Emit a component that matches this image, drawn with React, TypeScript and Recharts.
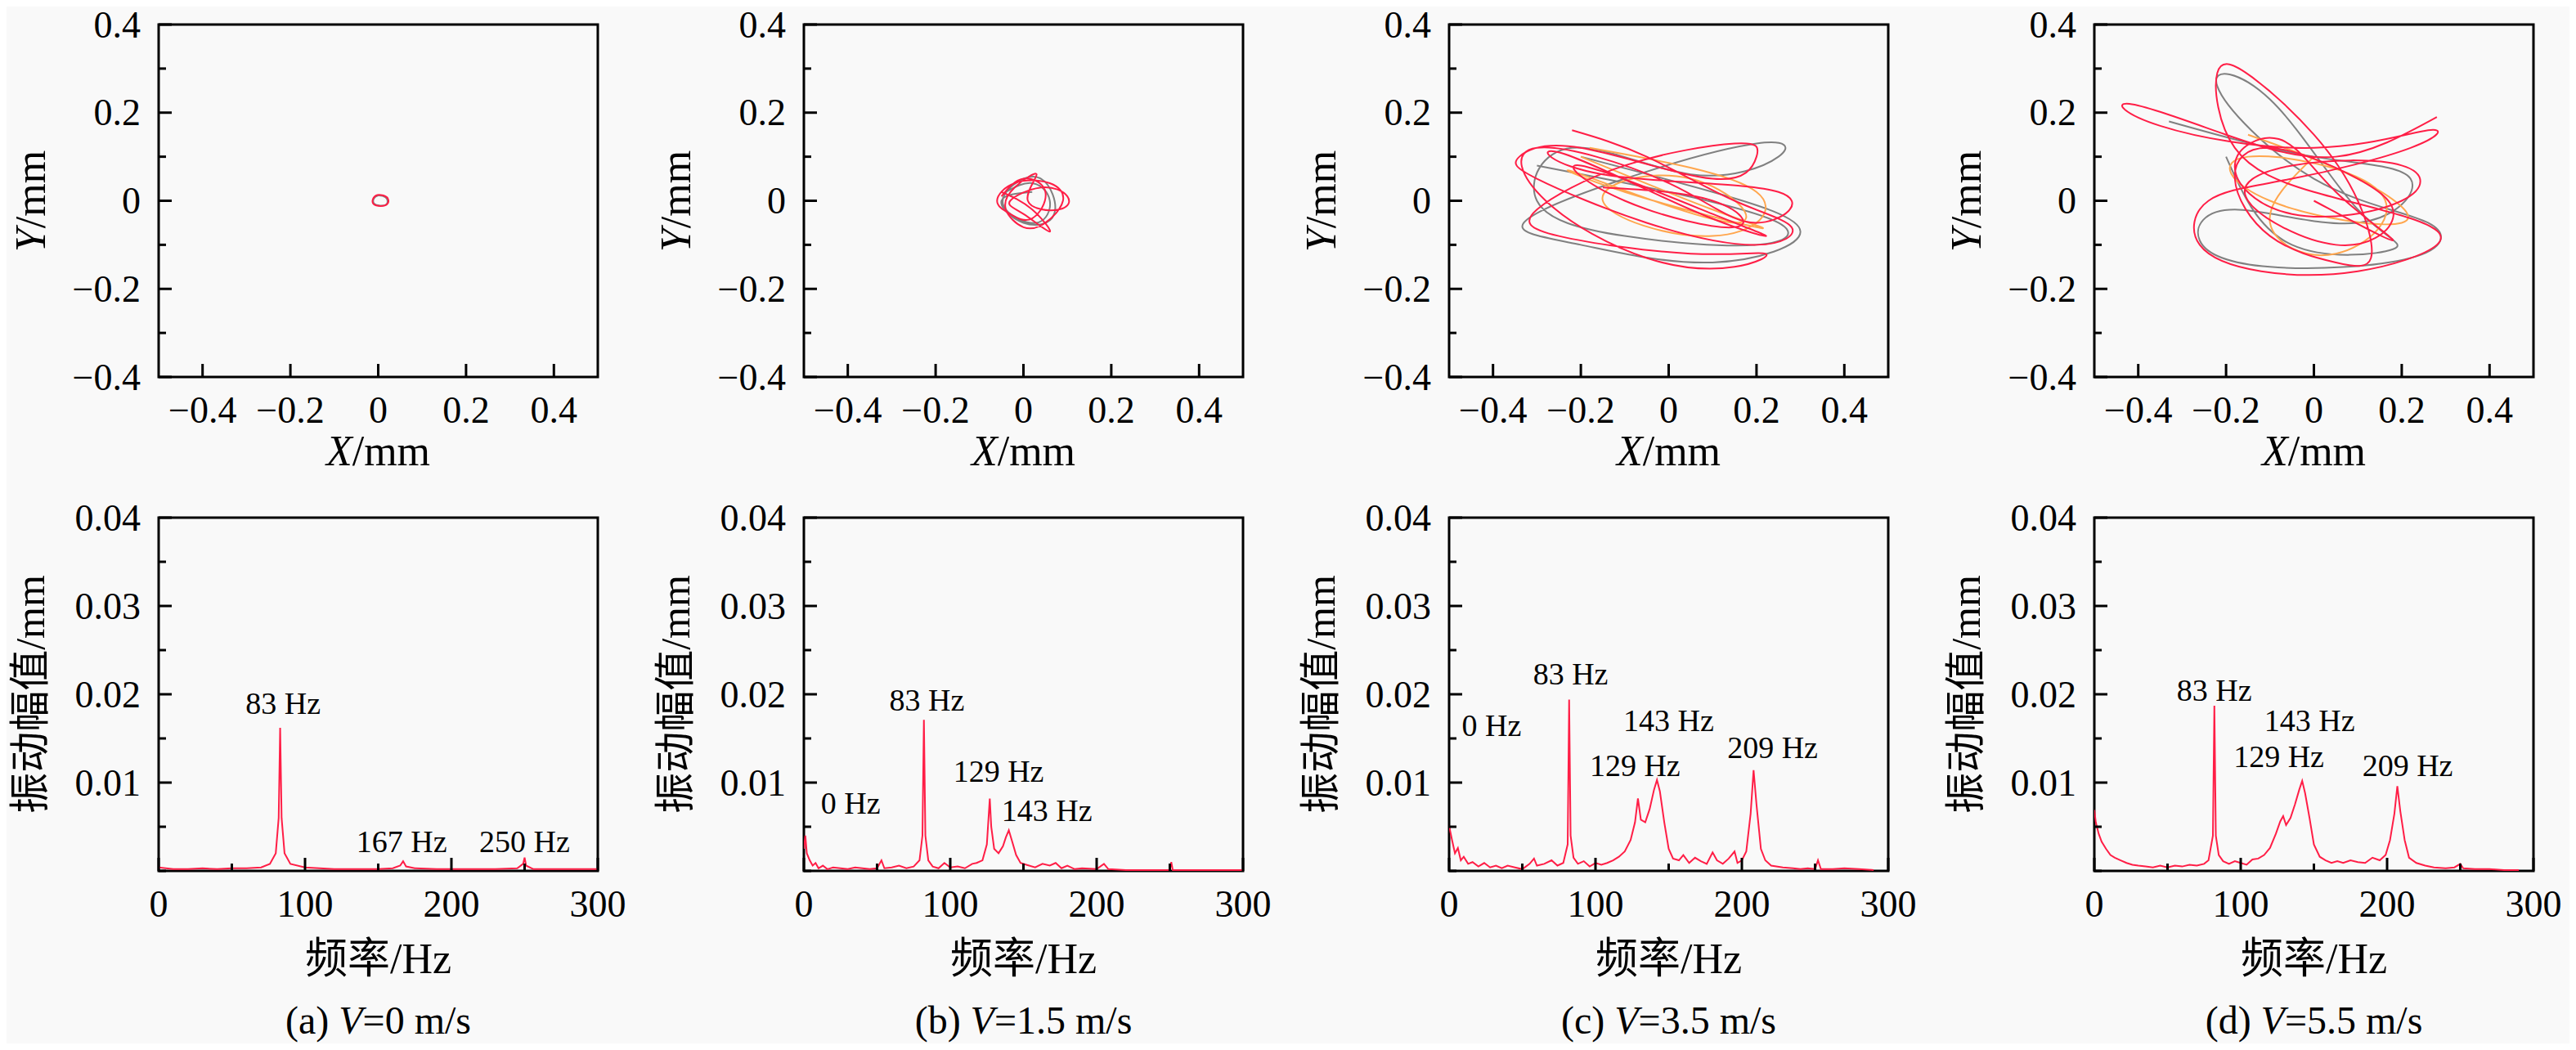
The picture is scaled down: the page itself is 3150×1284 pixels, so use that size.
import React from 'react';
import { LineChart, Line, XAxis, YAxis, ReferenceArea, ReferenceDot } from 'recharts';

const serif = '"Liberation Serif", "Times New Roman", serif';
const cjk = '"Noto Sans CJK SC", sans-serif';

const captions = ['(a) ', '(b) ', '(c) ', '(d) '];
const speeds = ['=0 m/s', '=1.5 m/s', '=3.5 m/s', '=5.5 m/s'];

const orbitTicks = [-0.4, -0.3, -0.2, -0.1, 0, 0.1, 0.2, 0.3, 0.4];
const orbitXTicks = [-0.4, -0.2, 0, 0.2, 0.4];
const specYTicks = [0, 0.005, 0.01, 0.015, 0.02, 0.025, 0.03, 0.035, 0.04];
const specXTicks = [0, 50, 100, 150, 200, 250, 300];

type P = [number, number];

// orbit traces (x, y) in mm
const orbitARed: P[] = [[0.012, 0.012], [0.022, 0.005], [0.02, -0.008], [0.005, -0.012], [-0.01, -0.008], [-0.012, 0.004], [-0.002, 0.013], [0.012, 0.012]];
const orbitAGray: P[] = [[0.01, 0.011], [0.02, 0.004], [0.018, -0.009], [0.004, -0.011], [-0.009, -0.007], [-0.01, 0.005], [0.0, 0.012], [0.01, 0.011]];
const orbitBRed: P[] = [[-0.05, 0.01], [0.0, 0.05], [0.05, 0.02], [0.02, -0.04], [-0.03, -0.03], [-0.06, 0.0], [-0.02, 0.04], [0.06, 0.04], [0.09, 0.0], [0.05, -0.05], [0.0, -0.06], [-0.04, -0.02], [-0.02, 0.03], [0.03, 0.06], [0.01, 0.0], [0.08, -0.02], [0.1, 0.01], [0.04, 0.03], [-0.03, 0.0], [0.0, -0.03], [0.06, -0.07], [0.02, -0.02], [-0.05, 0.02]];
const orbitBGray: P[] = [[-0.04, 0.02], [0.02, 0.04], [0.06, 0.0], [0.03, -0.05], [-0.04, -0.02], [-0.03, 0.03], [0.04, 0.05], [0.07, -0.03], [0.0, -0.05], [-0.05, 0.0], [0.02, 0.02]];
const orbitCRed: P[] = [[-0.22, 0.16], [-0.05, 0.1], [0.15, 0.0], [0.28, -0.06], [0.2, -0.1], [-0.05, -0.05], [-0.3, 0.05], [-0.34, 0.1], [-0.2, 0.12], [0.1, 0.05], [0.2, 0.1], [0.15, 0.13], [-0.1, 0.08], [-0.3, -0.02], [-0.25, -0.08], [0.05, -0.12], [0.22, -0.12], [0.15, -0.15], [-0.05, -0.13], [-0.28, 0.0], [-0.3, 0.12], [0.0, 0.04], [0.2, -0.05], [0.25, 0.02], [-0.15, 0.06], [-0.25, 0.11], [0.05, -0.02], [0.22, -0.08], [0.1, -0.03], [-0.2, 0.08], [-0.1, 0.0], [0.15, -0.06], [0.1, 0.0], [-0.15, 0.03]];
const orbitCGray: P[] = [[-0.3, 0.08], [0.0, 0.02], [0.25, -0.05], [0.2, -0.1], [-0.1, -0.08], [-0.3, 0.0], [-0.22, 0.12], [0.05, 0.06], [0.25, 0.1], [0.2, 0.13], [-0.1, 0.05], [-0.33, -0.05], [-0.2, -0.1], [0.1, -0.14], [0.3, -0.07], [0.1, 0.02], [-0.2, 0.1]];
const orbitCOrange: P[] = [[-0.2, 0.1], [0.1, -0.02], [0.2, -0.06], [-0.1, 0.02], [-0.2, 0.06], [0.15, -0.05], [0.05, 0.05], [-0.15, 0.0], [0.1, -0.08], [0.2, 0.02], [-0.18, 0.12]];
const orbitDRed: P[] = [[0.28, 0.19], [0.05, 0.1], [-0.2, 0.15], [-0.42, 0.22], [-0.35, 0.17], [0.0, 0.12], [0.26, 0.16], [0.22, 0.12], [-0.05, 0.05], [-0.24, 0.0], [-0.26, -0.1], [-0.12, -0.16], [0.1, -0.16], [0.28, -0.1], [0.22, -0.04], [0.0, 0.02], [-0.18, 0.12], [-0.22, 0.29], [-0.14, 0.28], [0.0, 0.15], [0.1, 0.0], [0.13, -0.13], [0.05, -0.14], [-0.1, -0.08], [-0.18, 0.05], [-0.1, 0.12], [0.1, 0.05], [0.18, -0.04], [0.05, -0.1], [-0.15, 0.0], [-0.05, 0.08], [0.2, 0.08], [0.2, 0.0], [-0.05, -0.03], [-0.18, 0.08], [-0.08, 0.14], [0.05, 0.02], [0.18, -0.09], [0.0, 0.0]];
const orbitDGray: P[] = [[-0.33, 0.18], [0.0, 0.1], [0.22, 0.05], [0.1, -0.05], [-0.18, -0.02], [-0.26, -0.09], [-0.1, -0.15], [0.22, -0.13], [0.26, -0.05], [0.0, 0.05], [-0.22, 0.26], [-0.1, 0.23], [0.1, -0.02], [0.18, -0.11], [-0.05, -0.1], [-0.2, 0.1]];
const orbitDOrange: P[] = [[-0.15, 0.15], [0.1, 0.05], [0.2, -0.05], [-0.1, 0.0], [-0.15, 0.1], [0.15, 0.02], [0.05, -0.12], [-0.1, -0.05], [0.0, 0.1]];

// spectra (Hz, mm)
const specA: P[] = [[0, 0.0004], [5, 0.0003], [10, 0.0002], [20, 0.0002], [30, 0.0003], [40, 0.0002], [50, 0.0003], [60, 0.0003], [70, 0.0004], [76, 0.0008], [80, 0.002], [82, 0.006], [83, 0.0162], [84, 0.006], [86, 0.002], [90, 0.0008], [100, 0.0004], [110, 0.0003], [120, 0.0002], [130, 0.0002], [140, 0.0002], [150, 0.0002], [160, 0.0003], [165, 0.0006], [167, 0.0011], [169, 0.0005], [175, 0.0003], [190, 0.0002], [210, 0.0002], [230, 0.0002], [245, 0.0003], [249, 0.0008], [250, 0.0015], [251, 0.0006], [256, 0.0002], [270, 0.0002], [290, 0.0002], [300, 0.0002]];
const specB: P[] = [[0, 0.0025], [1, 0.004], [2, 0.002], [4, 0.0012], [6, 0.0006], [8, 0.0009], [10, 0.0003], [13, 0.0006], [16, 0.0002], [20, 0.0004], [25, 0.0003], [30, 0.0002], [35, 0.0004], [40, 0.0003], [45, 0.0002], [50, 0.0003], [53, 0.0012], [55, 0.0003], [60, 0.0004], [65, 0.0006], [70, 0.0003], [75, 0.0005], [79, 0.0012], [81, 0.004], [82, 0.0171], [83, 0.004], [85, 0.0012], [88, 0.0005], [92, 0.0003], [96, 0.0009], [100, 0.0004], [105, 0.0005], [110, 0.0003], [115, 0.0008], [118, 0.0009], [122, 0.0012], [125, 0.003], [127, 0.0082], [128, 0.005], [130, 0.0025], [133, 0.002], [136, 0.0028], [138, 0.0038], [140, 0.0046], [142, 0.0035], [145, 0.0018], [148, 0.0009], [152, 0.0007], [158, 0.0004], [163, 0.0008], [168, 0.0006], [172, 0.0009], [176, 0.0003], [180, 0.0006], [185, 0.0002], [190, 0.0003], [200, 0.0002], [205, 0.0008], [208, 0.0002], [220, 0.0001], [240, 0.0001], [250, 0.0001], [251, 0.001], [252, 0.0001], [270, 0.0001], [300, 0.0001]];
const specC: P[] = [[0, 0.0051], [2, 0.0035], [4, 0.002], [6, 0.0026], [8, 0.0012], [10, 0.0016], [13, 0.0008], [16, 0.001], [20, 0.0005], [24, 0.0009], [28, 0.0004], [32, 0.0006], [36, 0.0003], [40, 0.0006], [45, 0.0004], [50, 0.0002], [55, 0.0008], [58, 0.0014], [60, 0.0006], [65, 0.0008], [70, 0.0012], [74, 0.0006], [78, 0.0009], [81, 0.003], [82, 0.0194], [83, 0.004], [85, 0.0015], [88, 0.0008], [92, 0.0011], [96, 0.0005], [100, 0.0009], [104, 0.0007], [108, 0.0009], [112, 0.0012], [116, 0.0016], [120, 0.0022], [124, 0.0035], [127, 0.0055], [129, 0.0082], [131, 0.0058], [134, 0.0055], [137, 0.007], [140, 0.0092], [142, 0.0103], [144, 0.009], [147, 0.0055], [150, 0.0025], [153, 0.0014], [157, 0.0012], [160, 0.0018], [164, 0.0009], [168, 0.0015], [172, 0.0011], [176, 0.0008], [180, 0.0021], [183, 0.0012], [187, 0.0008], [191, 0.0014], [195, 0.0022], [197, 0.0009], [200, 0.0012], [203, 0.0022], [206, 0.0065], [208, 0.0114], [210, 0.0075], [213, 0.0025], [216, 0.0012], [220, 0.0006], [228, 0.0004], [235, 0.0003], [240, 0.0002], [245, 0.0003], [250, 0.0002], [252, 0.0012], [254, 0.0002], [262, 0.0002], [270, 0.0003], [280, 0.0002], [290, 0.0001]];
const specD: P[] = [[0, 0.0069], [1, 0.0055], [3, 0.0042], [5, 0.0033], [8, 0.0025], [11, 0.0018], [14, 0.0015], [18, 0.0012], [22, 0.0009], [26, 0.0007], [30, 0.0006], [35, 0.0005], [40, 0.0004], [45, 0.0006], [50, 0.0004], [55, 0.0006], [60, 0.0005], [65, 0.0007], [70, 0.0006], [75, 0.0008], [78, 0.0012], [81, 0.004], [82, 0.0187], [83, 0.004], [85, 0.0018], [88, 0.0011], [92, 0.0008], [96, 0.0011], [100, 0.0009], [104, 0.0007], [108, 0.0013], [112, 0.0014], [116, 0.0018], [120, 0.0026], [124, 0.0042], [127, 0.0056], [129, 0.0062], [131, 0.0052], [134, 0.006], [137, 0.0075], [140, 0.0092], [142, 0.0102], [144, 0.0088], [147, 0.006], [150, 0.003], [154, 0.0016], [158, 0.0012], [162, 0.0009], [166, 0.0011], [170, 0.0009], [175, 0.0012], [180, 0.001], [185, 0.0009], [190, 0.0015], [195, 0.0012], [199, 0.0018], [202, 0.0035], [205, 0.0065], [207, 0.0096], [209, 0.0068], [212, 0.0035], [215, 0.0015], [220, 0.0009], [226, 0.0006], [232, 0.0004], [240, 0.0003], [246, 0.0004], [250, 0.0008], [252, 0.0003], [260, 0.0002], [270, 0.0002], [280, 0.0001], [290, 0.0001]];

// peak annotations: [label, Hz, mm]
const peaksA: [string, number, number][] = [['83 Hz', 85, 0.019], ['167 Hz', 166, 0.0034], ['250 Hz', 250, 0.0034]];
const peaksB: [string, number, number][] = [['0 Hz', 32, 0.0077], ['83 Hz', 84, 0.0194], ['129 Hz', 133, 0.0113], ['143 Hz', 166, 0.0069]];
const peaksC: [string, number, number][] = [['0 Hz', 29, 0.0165], ['83 Hz', 83, 0.0224], ['143 Hz', 150, 0.0171], ['129 Hz', 127, 0.012], ['209 Hz', 221, 0.014]];
const peaksD: [string, number, number][] = [['83 Hz', 82, 0.0205], ['143 Hz', 147, 0.0171], ['129 Hz', 126, 0.013], ['209 Hz', 214, 0.012]];

const orbits = [
  [orbitAGray, orbitARed, [] as P[]],
  [orbitBGray, orbitBRed, [] as P[]],
  [orbitCGray, orbitCOrange, orbitCRed],
  [orbitDGray, orbitDOrange, orbitDRed],
];
const spectra = [specA, specB, specC, specD];
const peaks = [peaksA, peaksB, peaksC, peaksD];

const toXY = (a: P[]) => a.map(([x, y]) => ({ x, y }));

const RED = '#ff1e46';
const GRAY = '#808080';
const ORANGE = '#ffa64d';

const BOX_W = 537;
const TOP_Y = 30;
const TOP_H = 431;
const BOT_Y = 633;
const BOT_H = 432;
const ML = 200;
const MT = 30;
const MB = 80;

const fmtOrbit = (v: number) => (v === 0 ? '0' : (v < 0 ? '\u2212' : '') + Math.abs(v).toString());

function makeYTick(major: (v: number) => boolean, fmt: (v: number) => string) {
  return (props: any) => {
    const { x, y, payload } = props;
    const isMajor = major(payload.value);
    return (
      <g>
        <line x1={ML} y1={y} x2={ML + (isMajor ? 16 : 9)} y2={y} stroke="#000" strokeWidth={3} />
        {isMajor && (
          <text x={ML - 22} y={y} textAnchor="end" dominantBaseline="central" fontFamily={serif} fontSize={46} fill="#000">
            {fmt(payload.value)}
          </text>
        )}
      </g>
    );
  };
}

function makeXTick(major: (v: number) => boolean, fmt: (v: number) => string, bottom: number) {
  return (props: any) => {
    const { x, payload } = props;
    const isMajor = major(payload.value);
    return (
      <g>
        <line x1={x} y1={bottom} x2={x} y2={bottom - (isMajor ? 16 : 9)} stroke="#000" strokeWidth={3} />
        {isMajor && (
          <text x={x} y={bottom + 40} textAnchor="middle" dominantBaseline="central" fontFamily={serif} fontSize={46} fill="#000">
            {fmt(payload.value)}
          </text>
        )}
      </g>
    );
  };
}

const orbitYTick = makeYTick((v) => Math.abs(Math.round(v * 10)) % 2 === 0, fmtOrbit);
const orbitXTick = makeXTick(() => true, fmtOrbit, MT + TOP_H);
const specYTick = makeYTick((v) => v > 0 && Math.round(v * 1000) % 10 === 0, (v) => v.toFixed(2));
const specXTick = makeXTick((v) => v % 100 === 0, (v) => String(v), MT + BOT_H);

function OrbitPanel({ i }: { i: number }) {
  const L = 194 + i * 789;
  const [g, o, r] = orbits[i];
  const series = [
    { d: g, c: GRAY },
    { d: o, c: i < 2 ? RED : ORANGE },
    { d: r, c: RED },
  ].filter((s) => s.d.length);
  return (
    <div style={{ position: 'absolute', left: L - ML, top: TOP_Y - MT }}>
      <LineChart width={ML + BOX_W + 40} height={MT + TOP_H + MB} margin={{ top: MT, left: ML - 10, right: 40, bottom: MB - 10 }}>
        <XAxis
          type="number" dataKey="x" domain={[-0.5, 0.5]} ticks={orbitXTicks} allowDataOverflow interval={0}
          axisLine={false} tickLine={false} height={10} tick={orbitXTick}
        />
        <YAxis
          type="number" dataKey="y" domain={[-0.4, 0.4]} ticks={orbitTicks} allowDataOverflow interval={0}
          axisLine={false} tickLine={false} width={10} tick={orbitYTick}
        />
        <ReferenceArea x1={-0.5} x2={0.5} y1={-0.4} y2={0.4} fill="none" stroke="#000" strokeWidth={3} fillOpacity={0} />
        {series.map((s, k) => (
          <Line key={k} data={toXY(s.d)} dataKey="y" type="natural" stroke={s.c} strokeWidth={2} dot={false} isAnimationActive={false} />
        ))}
      </LineChart>
    </div>
  );
}

function SpecPanel({ i }: { i: number }) {
  const L = 194 + i * 789;
  return (
    <div style={{ position: 'absolute', left: L - ML, top: BOT_Y - MT }}>
      <LineChart width={ML + BOX_W + 60} height={MT + BOT_H + MB} margin={{ top: MT, left: ML - 10, right: 60, bottom: MB - 10 }}>
        <XAxis
          type="number" dataKey="x" domain={[0, 300]} ticks={specXTicks} allowDataOverflow interval={0}
          axisLine={false} tickLine={false} height={10} tick={specXTick}
        />
        <YAxis
          type="number" dataKey="y" domain={[0, 0.04]} ticks={specYTicks} allowDataOverflow interval={0}
          axisLine={false} tickLine={false} width={10} tick={specYTick}
        />
        <ReferenceArea x1={0} x2={300} y1={0} y2={0.04} fill="none" stroke="#000" strokeWidth={3} fillOpacity={0} />
        <Line data={toXY(spectra[i])} dataKey="y" type="linear" stroke={RED} strokeWidth={2} dot={false} isAnimationActive={false} />
        {peaks[i].map(([t, x, y], k) => (
          <ReferenceDot
            key={k} x={x} y={y} r={0} ifOverflow="visible"
            label={{ value: t, position: 'center', fontFamily: serif, fontSize: 38, fill: '#000' }}
          />
        ))}
      </LineChart>
    </div>
  );
}

const txt: React.CSSProperties = { position: 'absolute', fontFamily: serif, color: '#000', whiteSpace: 'nowrap', lineHeight: 1 };

export default function App() {
  return (
    <div style={{ position: 'relative', width: 3150, height: 1284, background: '#f9f9f9', margin: -8, overflow: 'hidden' }}>
      {[0, 1, 2, 3].map((i) => {
        const L = 194 + i * 789;
        const cx = L + BOX_W / 2;
        return (
          <React.Fragment key={i}>
            <OrbitPanel i={i} />
            <SpecPanel i={i} />
            <div style={{ ...txt, left: cx, top: 552, fontSize: 52, transform: 'translate(-50%, -50%)' }}>
              <i>X</i>/mm
            </div>
            <div style={{ ...txt, left: L - 156, top: TOP_Y + TOP_H / 2, fontSize: 52, transform: 'translate(-50%, -50%) rotate(-90deg)' }}>
              <i>Y</i>/mm
            </div>
            <div style={{ ...txt, left: cx, top: 1170, fontSize: 52, transform: 'translate(-50%, -50%)' }}>
              <span style={{ fontFamily: cjk }}>频率</span>/Hz
            </div>
            <div style={{ ...txt, left: L - 160, top: BOT_Y + BOT_H / 2, fontSize: 50, transform: 'translate(-50%, -50%) rotate(-90deg)' }}>
              <span style={{ fontFamily: cjk }}>振动幅值</span>/mm
            </div>
            <div style={{ ...txt, left: cx, top: 1248, fontSize: 48, transform: 'translate(-50%, -50%)' }}>
              {captions[i]}<i>V</i>{speeds[i]}
            </div>
          </React.Fragment>
        );
      })}
    </div>
  );
}
